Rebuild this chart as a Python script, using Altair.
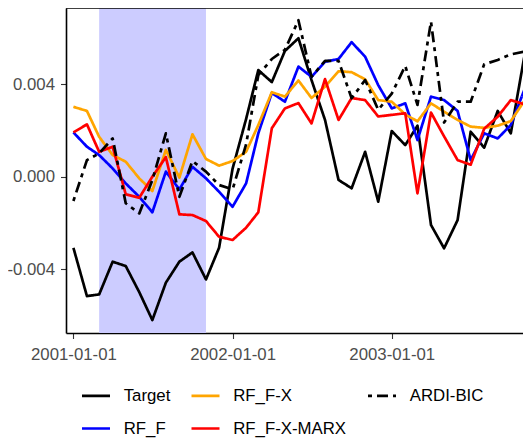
import altair as alt
import pandas as pd

# Monthly observations, Jan 2001 .. Nov 2003
months = [f"{y}-{m:02d}-01T00:00:00" for y in (2001, 2002, 2003) for m in range(1, 13)][:35]

# values in units of 1e-3
target = [-3.08, -5.17, -5.10, -3.68, -3.87, -5.00, -6.21, -4.59, -3.68, -3.28,
          -4.45, -3.08, 0.35, 2.50, 4.62, 4.10, 5.45, 6.00, 4.19, 2.46,
          -0.14, -0.50, 1.08, -1.08, 1.98, 1.37, 2.21, -2.09, -3.10, -1.88,
          1.95, 1.26, 2.85, 1.88, 5.20]
rf_f = [1.92, 1.30, 0.94, 0.36, -0.29, -0.87, -1.54, 0.22, -0.55, 0.43,
        -0.07, -0.65, -1.30, -0.29, 1.88, 3.63, 3.25, 4.77, 4.33, 4.98,
        5.10, 5.83, 5.20, 3.97, 2.96, 3.18, 1.59, 3.47, 3.32, 2.85,
        0.72, 1.88, 1.66, 2.24, 3.76]
rf_f_x = [3.03, 2.85, 1.73, 0.94, 0.65, -0.07, -0.62, 1.16, -0.04, 1.84,
          0.77, 0.48, 0.68, 1.08, 2.24, 3.66, 3.47, 4.17, 3.41, 3.90,
          4.57, 4.53, 4.22, 3.32, 3.25, 2.70, 2.40, 3.18, 2.82, 2.46,
          2.17, 2.12, 2.21, 2.41, 3.28]
rf_f_x_marx = [1.92, 2.27, 1.08, 1.30, -0.76, -0.91, 0.00, 0.85, -1.63, -1.66,
               -1.92, -2.60, -2.74, -2.21, -1.54, 2.10, 2.96, 3.19, 2.31, 4.23,
               2.46, 3.41, 3.32, 2.61, 2.68, 2.75, -0.72, 2.78, 1.75, 0.72,
               0.52, 2.08, 2.60, 3.32, 3.14]
ardi_bic = [-1.05, 0.72, 1.01, 1.66, -1.15, -1.59, -0.15, 1.88, -0.87, 0.68,
            0.22, -0.36, -0.55, 1.40, 4.40, 5.10, 5.50, 6.78, 4.33, 5.02,
            5.02, 3.40, 4.19, 2.90, 3.60, 4.80, 3.11, 6.72, 2.35, 3.25,
            3.25, 4.87, 5.06, 5.30, 5.42]

series_names = ["Target", "RF_F", "RF_F-X", "RF_F-X-MARX", "ARDI-BIC"]
series_values = [target, rf_f, rf_f_x, rf_f_x_marx, ardi_bic]
series_colors = ["#000000", "#0000FF", "#FFA500", "#FF0000", "#000000"]
series_dashes = [[1, 0], [1, 0], [1, 0], [1, 0], [4, 5, 11, 5]]

recession_start = "2001-03-01T00:00:00"
recession_end = "2001-11-01T00:00:00"

tick_dates = [alt.DateTime(year=2001, month=1, date=1),
              alt.DateTime(year=2002, month=1, date=1),
              alt.DateTime(year=2003, month=1, date=1)]
y_ticks = [-0.004, 0.0, 0.004]

rows = []
for name, vals in zip(series_names, series_values):
    for d, v in zip(months, vals):
        rows.append({"date": d, "value": v * 1e-3, "series": name})
df = pd.DataFrame(rows)
shade_df = pd.DataFrame({"start": [recession_start], "end": [recession_end]})

W, H = 457, 325
FONT = "Liberation Sans"
x_domain = [alt.DateTime(year=2000, month=12, date=15),
            alt.DateTime(year=2003, month=10, date=29)]
y_domain = [-0.00677, 0.00731]

xscale = alt.Scale(domain=x_domain)
yscale = alt.Scale(domain=y_domain, nice=False, zero=False)

legend = alt.Legend(title=None, orient="none", legendX=14.5, legendY=372,
                    direction="vertical", columns=3, symbolType="stroke", symbolSize=784,
                    symbolStrokeWidth=2.7, labelFontSize=16.8, labelFont=FONT,
                    labelColor="#000000", columnPadding=15.5, rowPadding=8,
                    labelOffset=12.2, padding=0)

shade = alt.Chart(shade_df).mark_rect(color="#CCCCFF", opacity=1).encode(
    x=alt.X("start:T", scale=xscale),
    x2="end:T",
    y=alt.value(0),
    y2=alt.value(H),
)

lines = alt.Chart(df).mark_line(strokeWidth=2.7, strokeJoin="round", clip=True).encode(
    x=alt.X("date:T", scale=xscale,
            axis=alt.Axis(values=tick_dates, format="%Y-%m-%d", title=None,
                          labelFontSize=16.8, labelPadding=8)),
    y=alt.Y("value:Q", scale=yscale,
            axis=alt.Axis(values=y_ticks, title=None, labelFontSize=16.8, labelPadding=6,
                          labelExpr="datum.value < 0 ? '-' + format(-datum.value, '.3f') : format(datum.value, '.3f')")),
    color=alt.Color("series:N", scale=alt.Scale(domain=series_names, range=series_colors),
                    legend=legend),
    strokeDash=alt.StrokeDash("series:N", scale=alt.Scale(domain=series_names, range=series_dashes),
                              legend=legend),
)

top_border = alt.Chart(shade_df).mark_rule(color="#000000", strokeWidth=1.6).encode(
    x=alt.value(0), x2=alt.value(W), y=alt.value(0)
)

chart = alt.layer(shade, lines, top_border).properties(
    width=W, height=H,
    autosize=alt.AutoSizeParams(type="none"),
    padding={"left": 58, "top": 0, "right": 0, "bottom": 106},
    background="white",
).configure_view(stroke=None).configure_axis(
    grid=False, domainColor="#000000", domainWidth=1.6,
    tickColor="#333333", tickWidth=1.1, tickSize=5.5,
    labelColor="#4D4D4D", labelFont=FONT,
)

chart.save("out.html", embed_options={"renderer": "svg", "actions": False})
